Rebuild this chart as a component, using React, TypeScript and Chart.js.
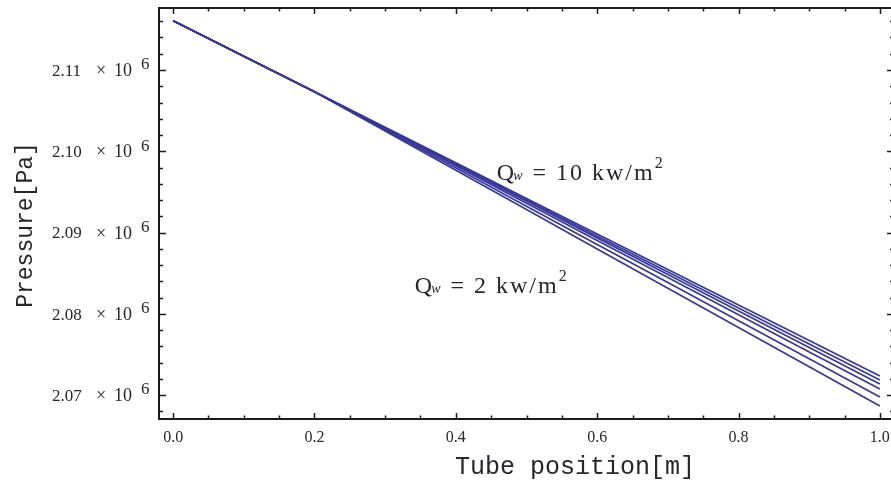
import React, { useEffect, useRef } from "react";
import { Chart, registerables } from "chart.js";

Chart.register(...registerables);

// Tube position [m]
const positions = [0, 0.1, 0.2, 0.3, 0.4, 0.5, 0.6, 0.7, 0.8, 0.9, 1.0];

// Pressure [Pa] for the different wall heat fluxes
const pressureA = [2116070, 2111700, 2107320, 2102950, 2098580, 2094200, 2089830, 2085460, 2081090, 2076710, 2072340];
const pressureB = [2116070, 2111700, 2107320, 2102890, 2098460, 2094020, 2089580, 2085150, 2080720, 2076280, 2071850];
const pressureC = [2116070, 2111700, 2107320, 2102830, 2098330, 2093840, 2089340, 2084840, 2080350, 2075850, 2071350];
const pressureD = [2116070, 2111700, 2107320, 2102750, 2098180, 2093600, 2089030, 2084460, 2079890, 2075310, 2070740];
const pressureE = [2116070, 2111700, 2107320, 2102630, 2097930, 2093230, 2088540, 2083840, 2079150, 2074450, 2069750];
const pressureF = [2116070, 2111700, 2107320, 2102490, 2097660, 2092820, 2087980, 2083150, 2078320, 2073480, 2068650];
const allSeries = [pressureA, pressureB, pressureC, pressureD, pressureE, pressureF];

const xTickValues = [0, 0.2, 0.4, 0.6, 0.8, 1.0];
const xTickLabels = ["0.0", "0.2", "0.4", "0.6", "0.8", "1.0"];
const yTickValues = [2070000, 2080000, 2090000, 2100000, 2110000];
const yTickLabels = ["2.07", "2.08", "2.09", "2.10", "2.11"];
const yTickExponent = "6";

const xTitle = "Tube position[m]";
const yTitle = "Pressure[Pa]";
const fluxHigh = "10";
const fluxLow = "2";

const TEXT = "#26262e";
const LINE = "#38389c";

function drawFluxLabel(ctx: CanvasRenderingContext2D, px: number, py: number, value: string) {
  ctx.fillStyle = TEXT;
  ctx.textAlign = "left";
  ctx.textBaseline = "alphabetic";
  ctx.font = '24px "Liberation Serif"';
  ctx.fillText("Q", px, py);
  let cx = px + ctx.measureText("Q").width;
  ctx.font = 'italic 14px "Liberation Serif"';
  ctx.fillText("w", cx - 1, py);
  cx += ctx.measureText("w").width + 1;
  ctx.font = '24px "Liberation Serif"';
  (ctx as any).letterSpacing = "2px";
  const main = " = " + value + " kw/m";
  ctx.fillText(main, cx, py);
  cx += ctx.measureText(main).width;
  (ctx as any).letterSpacing = "0px";
  ctx.font = '16px "Liberation Serif"';
  ctx.fillText("2", cx, py - 12);
}

const framePlugin = {
  id: "framePlugin",
  afterDraw(chart: any) {
    const { ctx, chartArea: a, scales } = chart;
    const xs = scales.x;
    const ys = scales.y;
    ctx.save();
    // frame
    ctx.strokeStyle = "#1c1c1c";
    ctx.lineWidth = 2;
    ctx.strokeRect(a.left, a.top, a.right - a.left, a.bottom - a.top);
    ctx.lineWidth = 1.5;
    // x ticks (inward, bottom and top)
    for (let i = 0; i <= 20; i++) {
      const v = i * 0.05;
      const px = Math.round(xs.getPixelForValue(v)) + 0.5;
      const len = i % 4 === 0 ? 6 : 3.5;
      ctx.beginPath();
      ctx.moveTo(px, a.bottom);
      ctx.lineTo(px, a.bottom - len);
      ctx.moveTo(px, a.top);
      ctx.lineTo(px, a.top + len);
      ctx.stroke();
    }
    // y ticks (inward, left and right)
    for (let i = 0; i <= 24; i++) {
      const v = 2068000 + i * 2000;
      const py = Math.round(ys.getPixelForValue(v)) + 0.5;
      const len = v % 10000 === 0 ? 7 : 4;
      ctx.beginPath();
      ctx.moveTo(a.left, py);
      ctx.lineTo(a.left + len, py);
      ctx.moveTo(a.right, py);
      ctx.lineTo(a.right - len, py);
      ctx.stroke();
    }
    // x tick labels
    ctx.fillStyle = TEXT;
    ctx.font = '16px "Liberation Serif"';
    ctx.textAlign = "center";
    ctx.textBaseline = "middle";
    xTickValues.forEach((v, i) => {
      ctx.fillText(xTickLabels[i], xs.getPixelForValue(v), a.bottom + 19);
    });
    // y tick labels
    ctx.textAlign = "left";
    yTickValues.forEach((v, i) => {
      const py = ys.getPixelForValue(v);
      ctx.font = '17px "Liberation Serif"';
      ctx.fillText(yTickLabels[i], 52, py + 1.5);
      ctx.font = '18px "Liberation Serif"';
      ctx.fillText("\u00d7", 96, py + 1.5);
      ctx.fillText("10", 114, py + 1.5);
      ctx.font = '17px "Liberation Serif"';
      ctx.fillText(yTickExponent, 141, py - 5);
    });
    // axis titles
    ctx.font = '25px "Liberation Mono"';
    ctx.textAlign = "center";
    ctx.textBaseline = "alphabetic";
    ctx.fillText(xTitle, 575, a.bottom + 55);
    ctx.save();
    ctx.translate(32, 225);
    ctx.rotate(-Math.PI / 2);
    ctx.font = '23px "Liberation Mono"';
    ctx.fillText(yTitle, 0, 0);
    ctx.restore();
    // flux annotations
    drawFluxLabel(ctx, xs.getPixelForValue(0.458), ys.getPixelForValue(2096460), fluxHigh);
    drawFluxLabel(ctx, xs.getPixelForValue(0.342), ys.getPixelForValue(2082550), fluxLow);
    ctx.restore();
  },
};

export default function App() {
  const ref = useRef<HTMLCanvasElement | null>(null);
  useEffect(() => {
    document.body.style.margin = "0";
    const canvas = ref.current;
    if (!canvas) return;
    const chart = new Chart(canvas, {
      type: "line",
      data: {
        datasets: allSeries.map((s, k) => ({
          label: "series " + k,
          data: positions.map((x, i) => ({ x, y: s[i] })),
          borderColor: LINE,
          borderWidth: 1.7,
          pointRadius: 0,
          tension: 0,
          fill: false,
        })),
      },
      options: {
        responsive: false,
        animation: false,
        devicePixelRatio: 1,
        layout: { padding: { left: 159, top: 8, right: 6, bottom: 66 } },
        plugins: { legend: { display: false }, tooltip: { enabled: false } },
        scales: {
          x: { type: "linear", min: -0.02, max: 1.02, display: false },
          y: { type: "linear", min: 2067050, max: 2117630, display: false },
        },
      },
      plugins: [framePlugin],
    });
    return () => chart.destroy();
  }, []);
  return (
    <div style={{ width: 891, height: 485, overflow: "hidden", position: "relative", background: "#fff" }}>
      <canvas ref={ref} width={900} height={485} style={{ display: "block" }} />
    </div>
  );
}
